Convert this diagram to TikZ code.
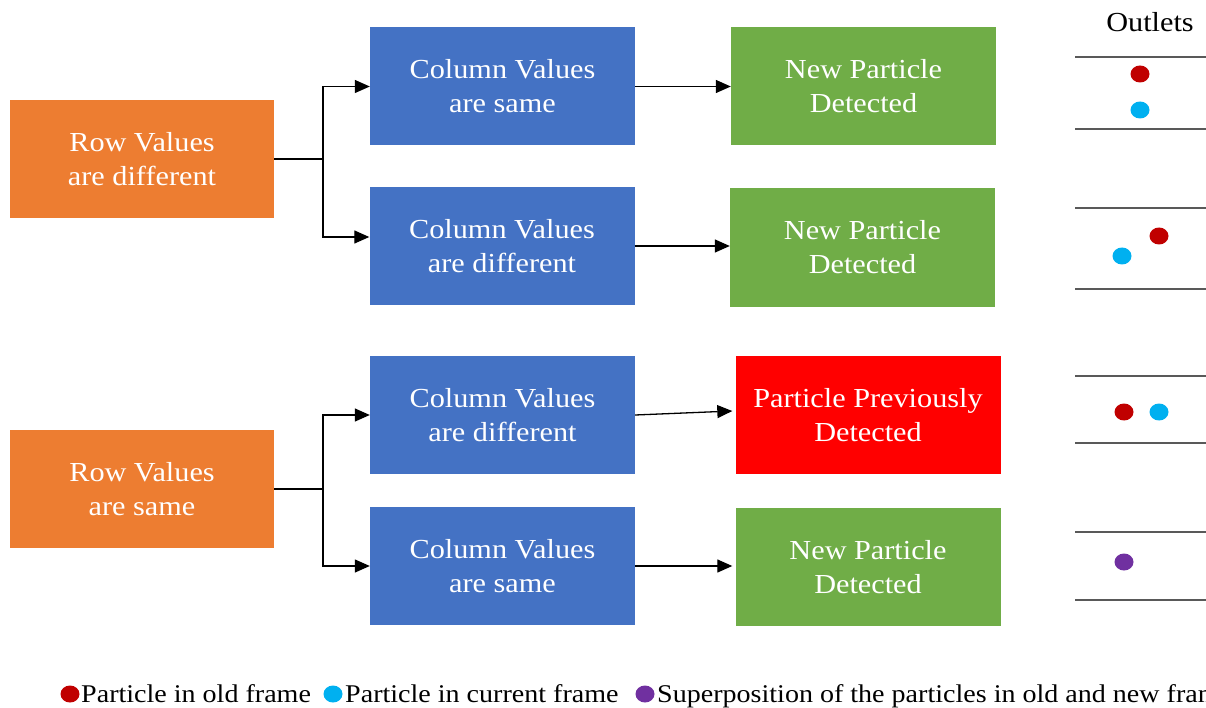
\documentclass[tikz,border=0pt]{standalone}
\usepackage{fontspec}
\setmainfont{Liberation Serif}[FakeStretch=1.1]
\usetikzlibrary{arrows.meta,calc,shapes.geometric}
\definecolor{boxorange}{HTML}{ED7D31}
\definecolor{boxblue}{HTML}{4472C4}
\definecolor{boxgreen}{HTML}{70AD47}
\definecolor{boxred}{HTML}{FF0000}
\definecolor{dotred}{HTML}{C00000}
\definecolor{dotblue}{HTML}{00B0F0}
\definecolor{dotpurple}{HTML}{7030A0}
\definecolor{linegray}{HTML}{595959}
\tikzset{
  box/.style={rectangle, inner sep=0pt, minimum width=265pt, minimum height=118pt, align=center, text=white, font=\fontsize{27.5}{34}\selectfont},
  orangebox/.style={box, fill=boxorange, minimum width=264pt},
  bluebox/.style={box, fill=boxblue},
  greenbox/.style={box, fill=boxgreen},
  redbox/.style={box, fill=boxred},
  conn/.style={draw=black, line width=1.3pt},
  arr/.style={conn, -{Triangle[length=15pt,width=13pt]}},
  outline/.style={draw=linegray, line width=1.6pt},
  dot/.style={ellipse, inner sep=0pt, minimum width=19pt, minimum height=17pt},
  legtext/.style={anchor=base west, inner sep=0pt, font=\fontsize{25.5}{30}\selectfont},
}
\begin{document}
\begin{tikzpicture}[x=1pt,y=-1pt]
\useasboundingbox (0,0) rectangle (1206,708);
\clip (0,0) rectangle (1206,708);
% boxes
\node[orangebox] (o1) at (142,159) {Row Values\\are different};
\node[orangebox] (o2) at (142,489) {Row Values\\are same};
\node[bluebox] (b1) at (502.5,86.5) {Column Values\\are same};
\node[bluebox] (b2) at (502,246) {Column Values\\are different};
\node[bluebox] (b3) at (502.5,415) {Column Values\\are different};
\node[bluebox] (b4) at (502.5,566) {Column Values\\are same};
\node[greenbox] (g1) at (863.5,86.5) {New Particle\\Detected};
\node[greenbox] (g2) at (862.5,247.5) {New Particle\\Detected};
\node[redbox] (r3) at (868,415) {Particle Previously\\Detected};
\node[greenbox] (g4) at (868,567) {New Particle\\Detected};
% connectors
\coordinate (j1) at (323,159);
\coordinate (j2) at (323,489);
\draw[conn] (o1.east) -- (j1);
\draw[arr] (j1) |- (b1.west);
\draw[arr] (j1) |- ($(b2.west)+(0,-9)$);
\draw[conn] (o2.east) -- (j2);
\draw[arr] (j2) |- (b3.west);
\draw[arr] (j2) |- (b4.west);
\draw[arr] (b1.east) -- (g1.west);
\draw[arr] (b2.east) -- (b2.east -| g2.west);
\draw[arr] (b3.east) -- ($(r3.west)+(-3,-4)$);
\draw[arr] (b4.east) -- ($(b4.east -| g4.west)+(-3,0)$);
% outlets
\node[font=\fontsize{27.5}{34}\selectfont, inner sep=0pt] (outlets) at (1150,22) {Outlets};
\coordinate (l1a) at (1075,57);  \coordinate (l1b) at (1206,57);
\coordinate (l2a) at (1075,129); \coordinate (l2b) at (1206,129);
\coordinate (l3a) at (1075,208); \coordinate (l3b) at (1206,208);
\coordinate (l4a) at (1075,289); \coordinate (l4b) at (1206,289);
\coordinate (l5a) at (1075,376); \coordinate (l5b) at (1206,376);
\coordinate (l6a) at (1075,443); \coordinate (l6b) at (1206,443);
\coordinate (l7a) at (1075,532); \coordinate (l7b) at (1206,532);
\coordinate (l8a) at (1075,600); \coordinate (l8b) at (1206,600);
\draw[outline] (l1a) -- (l1b);
\draw[outline] (l2a) -- (l2b);
\draw[outline] (l3a) -- (l3b);
\draw[outline] (l4a) -- (l4b);
\draw[outline] (l5a) -- (l5b);
\draw[outline] (l6a) -- (l6b);
\draw[outline] (l7a) -- (l7b);
\draw[outline] (l8a) -- (l8b);
\node[dot, fill=dotred] (d1) at (1140,74) {};
\node[dot, fill=dotblue] (d2) at (1140,110) {};
\node[dot, fill=dotred] (d3) at (1159,236) {};
\node[dot, fill=dotblue] (d4) at (1122,256) {};
\node[dot, fill=dotred] (d5) at (1124,412) {};
\node[dot, fill=dotblue] (d6) at (1159,412) {};
\node[dot, fill=dotpurple] (d7) at (1124,562) {};
% legend
\node[dot, fill=dotred] (ld1) at (70,694) {};
\node[legtext] (lt1) at (81,702) {Particle in old frame};
\node[dot, fill=dotblue] (ld2) at (333,694) {};
\node[legtext] (lt2) at (345,702) {Particle in current frame};
\node[dot, fill=dotpurple] (ld3) at (645,694) {};
\node[legtext] (lt3) at (657,702) {Superposition of the particles in old and new frame};
\end{tikzpicture}
\end{document}
